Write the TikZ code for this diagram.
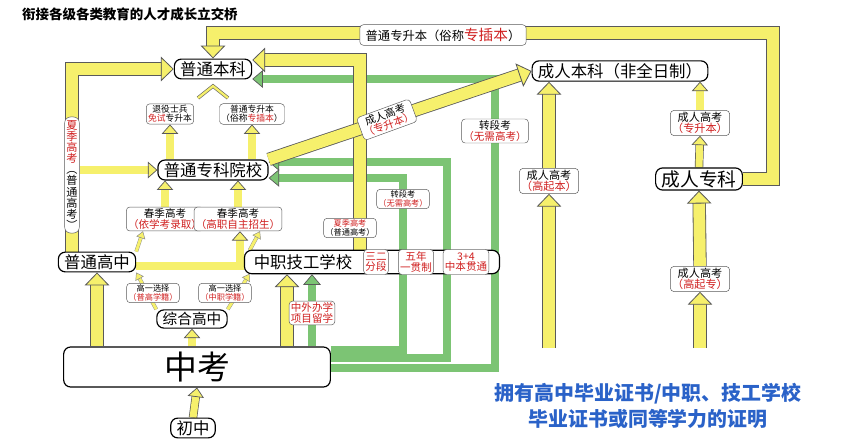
\documentclass[tikz,border=0pt]{standalone}
\usepackage{fontspec}
\setmainfont{Noto Sans CJK SC}
\usetikzlibrary{arrows.meta,backgrounds,calc}
\definecolor{yell}{HTML}{F6F06C}
\definecolor{gr}{HTML}{7CC474}
\definecolor{edge}{HTML}{5A5A5A}
\definecolor{tred}{HTML}{D02020}
\definecolor{tblue}{HTML}{2A62C8}
\newcommand{\fs}[1]{\fontsize{#1}{#1}\selectfont}
\newcommand{\rd}[1]{\textcolor{tred}{#1}}
\tikzset{
  box/.style={draw,rounded corners=6pt,line width=1pt,fill=white,inner xsep=5pt,inner ysep=2pt,font=\fs{14}},
  tag/.style={draw=edge,rounded corners=3pt,fill=white,inner sep=1.5pt,align=center,font=\fs{9}},
  small tag/.style={tag,font=\fs{7}},
  yfat/.style={line width=10pt,draw=yell,preaction={draw=edge,line width=11.4pt,-,shorten >=6pt},
    -{Triangle[length=11pt,width=21pt,color=edge,fill=yell,line width=.7pt]}},
  yslim/.style={line width=6pt,draw=yell,preaction={draw=edge,line width=7.2pt,-,shorten >=4pt},
    -{Triangle[length=8pt,width=14pt,color=edge,fill=yell,line width=.6pt]}},
  ythin/.style={line width=2.5pt,draw=yell,preaction={draw=edge!70,line width=3.2pt,-,shorten >=3pt},
    -{Triangle[length=6pt,width=8pt,color=edge!70,fill=yell,line width=.4pt]}},
  gfat/.style={line width=6pt,draw=gr,preaction={draw=edge,line width=7.2pt,-,shorten >=4pt},
    -{Triangle[length=9pt,width=15pt,color=edge,fill=gr,line width=.6pt]}},
}
\begin{document}
\begin{tikzpicture}[x=0.03cm,y=-0.03cm]
\useasboundingbox (0,0) rectangle (854,446);

% title
\node[anchor=west,font=\fs{11.5}\bfseries] (title) at (18,14) {衔接各级各类教育的人才成长立交桥};

% general track
\node[box] (bk) at (213,69) {普通本科};
\node[tag,font=\fs{7.5}] (tuiyi) at (170,114) {退役士兵\\\rd{免试}专升本};
\node[tag,font=\fs{7.5}] (zcb) at (252,114) {普通专升本\\（俗称\rd{专插本}）};
\node[box] (zk) at (213,170) {普通专科院校};
\node[tag] (cj1) at (165,219) {春季高考\\\rd{（依学考录取）}};
\node[tag] (cj2) at (238,219) {春季高考\\\rd{（高职自主招生）}};
\node[box] (pg) at (97,262) {普通高中};
\node[box,minimum width=7.65cm,minimum height=0.7cm] (zzrow) at (372,262) {};
\node[font=\fs{14}] (zz) at (303,262) {中职技工学校};
\node[tag,text=tred,minimum height=0.75cm] (s32) at (376,262) {三二\\分段};
\node[tag,text=tred,minimum height=0.75cm] (wn) at (416,262) {五年\\一贯制};
\node[tag,text=tred,minimum height=0.75cm] (sj) at (466,262) {3+4\\中本贯通};
\node[small tag] (gx1) at (153,293) {高一选择\\\rd{（普高学籍）}};
\node[small tag] (gx2) at (225,293) {高一选择\\\rd{（中职学籍）}};
\node[box,font=\fs{12.5}] (zh) at (192,319) {综合高中};
\node[box,minimum width=8cm,minimum height=1.2cm,font=\fs{28}] (zkao) at (197,367) {中考};
\node[box] (cz) at (193,428) {初中};
\node[tag,text=tred] (zw) at (312,313) {中外办学\\项目留学};
\node[tag,font=\fs{9.5},inner ysep=3pt,rounded corners=5pt] (xj) at (72,175)
  {\rd{夏}\\\rd{季}\\\rd{高}\\\rd{考}\\︵\\普\\通\\高\\考\\︶};
\node[small tag] (xj2) at (350,228) {\rd{夏季高考}\\（普通高考）};
\node[small tag] (zd1) at (403,199) {转段考\\\rd{（无需高考）}};

% adult track
\node[tag,font=\fs{10.5},inner xsep=5pt,inner ysep=3pt] (zcbtop) at (443,35) {普通专升本（俗称\rd{\fs{12.5}专插本}）};
\node[box] (cb) at (620,71) {成人本科（非全日制）};
\node[tag] (zd2) at (495,131) {转段考\\\rd{（无需高考）}};
\node[tag,font=\fs{9.5}] (gqb) at (549,181) {成人高考\\\rd{（高起本）}};
\node[box,font=\fs{16}] (crzk) at (699,179) {成人专科};
\node[tag,font=\fs{9.5}] (zsb2) at (700,123) {成人高考\\\rd{（专升本）}};
\node[tag,font=\fs{9.5}] (gqz) at (700,279) {成人高考\\\rd{（高起专）}};
\node[tag,rotate=20] (crl) at ($(zk.north east)!.45!(cb.west)$) {成人高考\\\rd{（专升本）}};
\coordinate (gqbbase) at (549,348);
\coordinate (gqzbase) at (700,348);
\coordinate (tr) at (773,33);

\node[font=\fs{17}\bfseries,text=tblue,align=center] (cert) at (648,406)
  {拥有高中毕业证书/中职、技工学校\\[4pt]毕业证书或同等学力的证明};

\begin{scope}[on background layer]
% green routes
\draw[gfat] (zkao.east |- 0,350) -| (403,178) -- (zk.east |- 0,178);
\draw[gfat] (zkao.east |- 0,358) -| (447,162) -- (zk.east |- 0,162);
\draw[gfat] (zkao.east |- 0,368) -| (495,79) -- (bk.east |- 0,79);
\draw[gfat] (zkao.north -| zw) -- (zzrow.south -| zw);
% yellow routes
\draw[yslim] (cz.north) -- (zkao.south);
\draw[yslim] (zkao.north -| zh) -- (zh.south);
\draw[yfat] (zkao.north -| pg) -- (pg.south);
\draw[yfat] (zkao.north -| 287,0) -- (zzrow.south -| 287,0);
\draw[ythin] (zh.north west) -- (pg.south east);
\draw[ythin] (zh.north east) -- (zz.south west);
\draw[ythin] (pg.north east) -- (cj1.south -| 143,0);
\draw[ythin] (zz.north west) -- (cj2.south -| 260,0);
\draw[yslim] (pg.east |- 0,266) -| (cj2.south -| 240,0);
\draw[yslim] (cj1.north) -- (zk.south -| cj1);
\draw[yslim] (cj2.north) -- (zk.south -| cj2);
\draw[yslim] (zk.north -| tuiyi) -- (tuiyi.south);
\draw[yslim] (zk.north -| zcb) -- (zcb.south);
\draw[line width=3pt,draw=edge,line join=miter] (198,98) -- (213,86) -- (228,98);
\draw[line width=2pt,draw=yell,line join=miter] (198,98) -- (213,86) -- (228,98);
\draw[yfat] (pg.north -| xj) |- (bk.west);
\draw[yslim] (xj.east |- zk) -- (zk.west);
\draw[yfat] (zzrow.north -| 360,0) |- (bk.east |- 0,60);
\draw[yfat] (zk.north east) -- (cb.west);
\draw[yfat] (gqbbase) -- (gqb.south);
\draw[yfat] (gqb.north) -- (cb.south -| gqb);
\draw[yfat] (gqzbase) -- (gqz.south);
\draw[yfat] (gqz.north) -- (crzk.south);
\draw[yslim] (crzk.north) -- (zsb2.south);
\draw[yslim] (zsb2.north) -- (cb.south -| zsb2);
\draw[yfat] (crzk.east) -| (tr) -| (bk.north);
\end{scope}
\end{tikzpicture}
\end{document}
